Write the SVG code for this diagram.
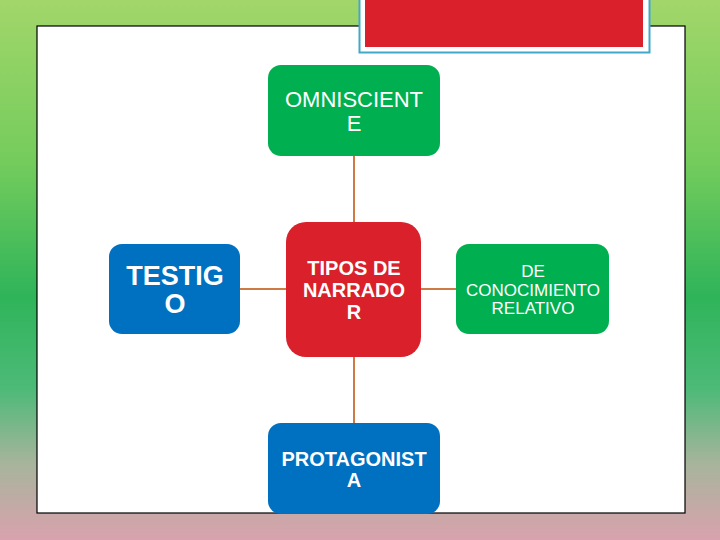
<svg xmlns="http://www.w3.org/2000/svg" width="720" height="540" viewBox="0 0 720 540">
<defs>
<linearGradient id="bg" x1="0" y1="0" x2="0" y2="1">
<stop offset="0" stop-color="#a2d66a"/>
<stop offset="0.3" stop-color="#74cc5c"/>
<stop offset="0.55" stop-color="#2fb45a"/>
<stop offset="0.72" stop-color="#4dba78"/>
<stop offset="0.86" stop-color="#a8b49c"/>
<stop offset="1" stop-color="#d9a2ae"/>
</linearGradient>
<style>
.conn{stroke:#cd7a45;stroke-width:2;fill:none}
.t{fill:#ffffff;font-family:"Liberation Sans",Arial,sans-serif;text-anchor:middle}
.b{font-weight:bold}
</style>
</defs>
<rect x="0" y="0" width="720" height="540" fill="url(#bg)"/>
<rect x="37" y="26" width="648" height="487" fill="#ffffff" stroke="#000000" stroke-width="1.2"/>
<g id="title">
<rect x="359.5" y="-2" width="290" height="54.5" fill="#ffffff" stroke="#42a8c8" stroke-width="2"/>
<rect x="365" y="-2" width="278" height="49" fill="#d9202b"/>
</g>
<g id="connectors">
<line class="conn" x1="354" y1="156" x2="354" y2="222"/>
<line class="conn" x1="354" y1="357" x2="354" y2="423"/>
<line class="conn" x1="240" y1="289" x2="286" y2="289"/>
<line class="conn" x1="421" y1="289" x2="456" y2="289"/>
</g>
<g id="omnisciente">
<rect x="268" y="65" width="172" height="91" rx="13" fill="#00b050"/>
<text class="t" x="354" y="107" font-size="22">OMNISCIENT</text>
<text class="t" x="354" y="131" font-size="22">E</text>
</g>
<g id="tipos">
<rect x="286" y="222" width="135" height="135" rx="20" fill="#d9202b"/>
<text class="t b" x="354" y="275" font-size="20">TIPOS DE</text>
<text class="t b" x="354" y="297" font-size="20">NARRADO</text>
<text class="t b" x="354" y="319" font-size="20">R</text>
</g>
<g id="testigo">
<rect x="109" y="244" width="131" height="90" rx="13" fill="#0070c0"/>
<text class="t b" x="175" y="285" font-size="27">TESTIG</text>
<text class="t b" x="175" y="313" font-size="27">O</text>
</g>
<g id="conocimiento">
<rect x="456" y="244" width="153" height="90" rx="13" fill="#00b050"/>
<text class="t" x="533" y="277" font-size="17">DE</text>
<text class="t" x="533" y="296" font-size="17">CONOCIMIENTO</text>
<text class="t" x="533" y="314" font-size="17">RELATIVO</text>
</g>
<g id="protagonista">
<rect x="268" y="423" width="172" height="91" rx="13" fill="#0070c0"/>
<text class="t b" x="354" y="466" font-size="20">PROTAGONIST</text>
<text class="t b" x="354" y="487" font-size="20">A</text>
</g>
</svg>
